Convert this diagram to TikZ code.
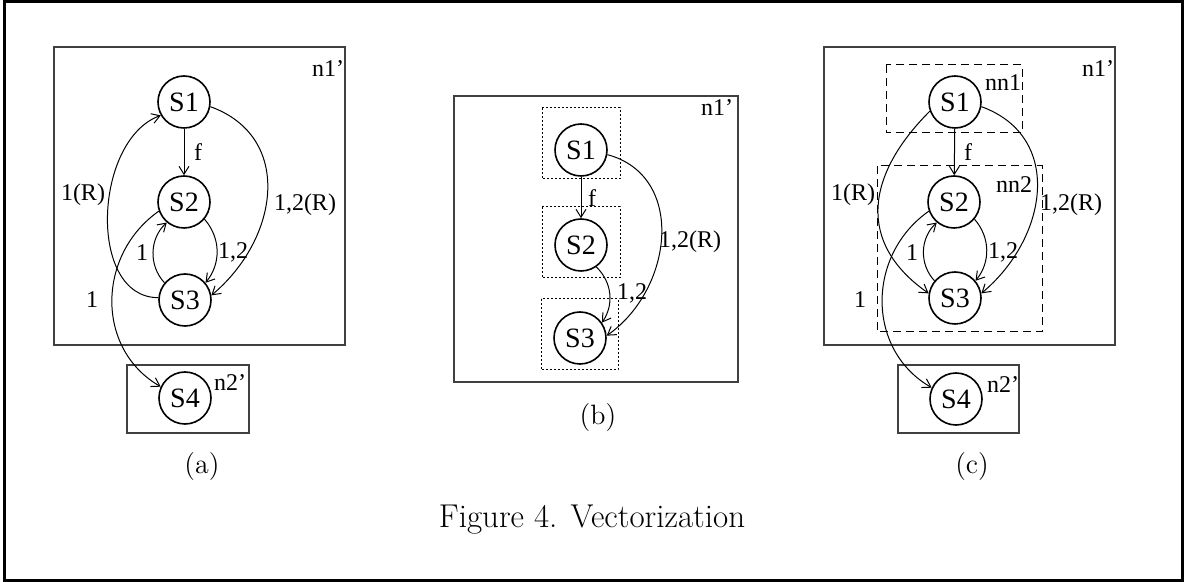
\documentclass[tikz,border=0pt]{standalone}
\usepackage{fontspec}
\usepackage{tikz}
\usetikzlibrary{arrows.meta}
\newfontfamily\tms{Liberation Serif}

\tikzset{
  state/.style={circle,draw,line width=0.8pt,minimum size=26pt,inner sep=0pt,
    font=\tms\fontsize{14}{16}\selectfont},
  lbl/.style={inner sep=0pt,font=\tms\fontsize{12}{14}\selectfont},
  subcap/.style={inner sep=0pt,font=\fontsize{14}{16}\selectfont},
  frame/.style={draw=black!75,line width=0.6pt},
  grp/.style={draw,line width=0.5pt,dash pattern=on 4pt off 2.5pt},
  cell/.style={draw,line width=0.5pt,dash pattern=on 0.8pt off 1.2pt},
  edge/.style={-{Straight Barb[length=4pt,width=5pt]},line width=0.5pt},
}

\begin{document}
\begin{tikzpicture}[x=0.5pt,y=0.5pt]
\useasboundingbox (0,0) rectangle (1184,-582);
\draw[line width=1.2pt] (4.5,-1.7) rectangle (1182.5,-580.5);

% (a)
\draw[frame] (54,-47) rectangle (345,-345);
\draw[frame] (127,-365) rectangle (249,-433);
\node[state] (a1) at (184,-102) {S1};
\node[state] (a2) at (184,-202) {S2};
\node[state] (a3) at (185,-300) {S3};
\node[state] (a4) at (185,-398) {S4};
\draw[edge] (a1) -- (a2);
\draw[edge] (a2.-40) to[bend left=40] (a3.40);
\draw[edge] (a3.140) to[bend left=45] (a2.-130);
\draw[edge] (a3.175) to[out=180,in=200] (a1.210);
\draw[edge] (a1.-10) to[out=-20,in=40,looseness=1.2] (a3.10);
\draw[edge] (a2.-160) to[out=-145,in=150,looseness=1.1] (a4.155);
\node[lbl] (af) at (198,-152) {f};
\node[lbl] (a12) at (233,-252) {1,2};
\node[lbl] (a1b) at (142,-253) {1};
\node[lbl] (a1R) at (83,-195) {1(R)};
\node[lbl] (a12R) at (305,-205) {1,2(R)};
\node[lbl] (a14) at (92,-300) {1};
\node[lbl] (an1) at (328,-69) {n1’};
\node[lbl] (an2) at (230,-383) {n2’};
\node[subcap] (capa) at (202,-467) {(a)};

% (b)
\draw[frame] (454,-96) rectangle (738,-382);
\draw[cell] (542,-108) rectangle (620,-179);
\draw[cell] (542,-207) rectangle (620,-278);
\draw[cell] (541,-299) rectangle (618,-370);
\node[state] (b1) at (581,-150) {S1};
\node[state] (b2) at (581,-245) {S2};
\node[state] (b3) at (580,-338) {S3};
\draw[edge] (b1) -- (b2);
\draw[edge] (b2.-55) to[bend left=40] (b3.35);
\draw[edge] (b1.-10) to[out=-15,in=35,looseness=1.15] (b3.5);
\node[lbl] (bf) at (592,-198) {f};
\node[lbl] (b12) at (632,-293) {1,2};
\node[lbl] (b12R) at (690,-242) {1,2(R)};
\node[lbl] (bn1) at (717,-108) {n1’};
\node[subcap] (capb) at (598,-418) {(b)};

% (c)
\draw[frame] (824,-47) rectangle (1115,-345);
\draw[frame] (898,-365) rectangle (1019,-433);
\draw[grp] (886,-65) rectangle (1022,-133);
\draw[grp] (877,-166) rectangle (1042,-332);
\node[state] (c1) at (955,-102) {S1};
\node[state] (c2) at (954,-202) {S2};
\node[state] (c3) at (955,-298) {S3};
\node[state] (c4) at (956,-399) {S4};
\draw[edge] (c1) -- (c2);
\draw[edge] (c2.-40) to[bend left=40] (c3.40);
\draw[edge] (c3.140) to[bend left=45] (c2.-130);
\draw[edge] (c1.200) to[out=225,in=145,looseness=1.25] (c3.170);
\draw[edge] (c1.-10) to[out=-20,in=40,looseness=1.2] (c3.10);
\draw[edge] (c2.-160) to[out=-145,in=150,looseness=1.1] (c4.155);
\node[lbl] (cf) at (968,-152) {f};
\node[lbl] (c12) at (1003,-252) {1,2};
\node[lbl] (c1b) at (912,-253) {1};
\node[lbl] (c1R) at (853,-195) {1(R)};
\node[lbl] (c12R) at (1071,-205) {1,2(R)};
\node[lbl] (c14) at (860,-300) {1};
\node[lbl] (cnn1) at (1003,-83) {nn1};
\node[lbl] (cnn2) at (1014,-185) {nn2};
\node[lbl] (cn1) at (1098,-69) {n1’};
\node[lbl] (cn2) at (1003,-385) {n2’};
\node[subcap] (capc) at (972,-467) {(c)};

\node[inner sep=0pt,font=\fontsize{16.5}{19}\selectfont] (title) at (592,-520) {Figure 4. Vectorization};
\end{tikzpicture}
\end{document}
